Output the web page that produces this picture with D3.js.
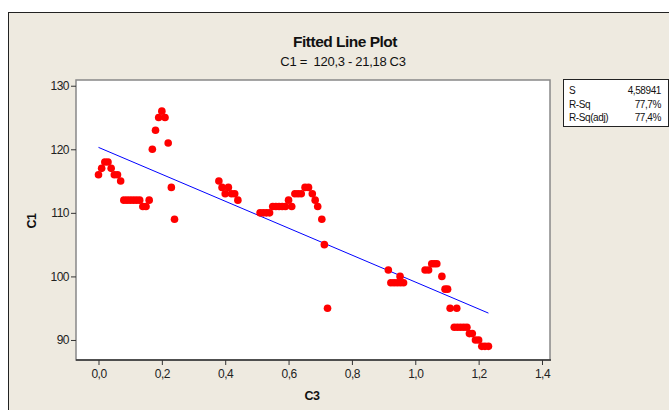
<!DOCTYPE html>
<html><head><meta charset="utf-8">
<script src="https://cdn.jsdelivr.net/npm/d3@7"></script>
<style>
html,body{margin:0;padding:0;background:#fff;}
svg{display:block;font-family:"Liberation Sans",Arial,sans-serif;}
</style></head>
<body><svg id="c" width="669" height="410"></svg>
<script>
// ---- data ----
const xValues = [0.00,0.01,0.02,0.03,0.04,0.05,0.06,0.07,
  0.08,0.09,0.10,0.11,0.12,0.13,0.14,0.15,0.16,0.17,0.18,0.19,0.20,0.21,0.22,0.23,0.24,
  0.38,0.39,0.40,0.41,0.42,0.43,0.44,
  0.51,0.52,0.53,0.54,0.55,0.56,0.57,0.58,0.59,0.60,0.61,0.62,0.63,0.64,
  0.652,0.663,0.675,0.684,0.692,0.705,0.713,0.723,
  0.915,0.923,0.933,0.943,0.953,0.963,0.952,
  1.031,1.042,1.052,1.060,1.068,1.084,1.094,1.102,1.110,1.131,
  1.123,1.133,1.143,1.153,1.163,1.171,1.180,1.190,1.200,1.210,1.220,1.231];
const yValues = [116,117,118,118,117,116,116,115,
  112,112,112,112,112,112,111,111,112,120,123,125,126,125,121,114,109,
  115,114,113,114,113,113,112,
  110,110,110,110,111,111,111,111,111,112,111,113,113,113,
  114,114,113,112,111,109,105,95,
  101,99,99,99,99,99,100,
  101,101,102,102,102,100,98,98,95,95,
  92,92,92,92,92,91,91,90,90,89,89,89];
const fitIntercept = 120.3, fitSlope = -21.18;
const xTicks = [0,0.2,0.4,0.6,0.8,1.0,1.2,1.4];
const yTicks = [90,100,110,120,130];
const titleText = "Fitted Line Plot";
const subtitleText = "C1 =  120,3 - 21,18 C3";
const statLabels = ["S","R-Sq","R-Sq(adj)"];
const statValues = ["4,58941","77,7%","77,4%"];

// ---- layout ----
const svg = d3.select("#c");
const L=76, R=550, T=80, B=360;
const x = d3.scaleLinear().domain([-0.071,1.4253]).range([L,R]);
const y = d3.scaleLinear().domain([86.85,130.9]).range([B,T]);
const fmt = d => d3.format(".1f")(d).replace(".",",");

svg.append("rect").attr("x",8.5).attr("y",12.5).attr("width",700).attr("height",450)
  .attr("fill","#EEEAE0").attr("stroke","#222").attr("stroke-width",1);

// titles
svg.append("text").attr("x",345).attr("y",47).attr("text-anchor","middle")
  .attr("font-size",15.5).attr("font-weight","bold").attr("letter-spacing",-0.5).attr("fill","#111").text(titleText);
svg.append("text").attr("x",343).attr("y",66).attr("text-anchor","middle")
  .attr("font-size",13).attr("letter-spacing",-0.3).attr("fill","#111").style("white-space","pre").text(subtitleText);

// plot area
svg.append("rect").attr("x",L).attr("y",T).attr("width",R-L).attr("height",B-T)
  .attr("fill","#fff").attr("stroke","#888").attr("stroke-width",1.5);
svg.append("line").attr("x1",L).attr("x2",R+1).attr("y1",B).attr("y2",B).attr("stroke","#333").attr("stroke-width",1.5);

// axes
const xa = svg.append("g").attr("transform",`translate(0,${B})`)
  .call(d3.axisBottom(x).tickValues(xTicks).tickFormat(fmt).tickSize(5).tickPadding(4));
const ya = svg.append("g").attr("transform",`translate(${L},0)`)
  .call(d3.axisLeft(y).tickValues(yTicks).tickSize(5).tickPadding(2));
[xa,ya].forEach(g=>{
  g.select(".domain").remove();
  g.selectAll("line").attr("stroke","#333");
  g.selectAll("text").attr("font-size",12).attr("letter-spacing",-0.5).attr("fill","#222")
   .attr("font-family","'Liberation Sans',Arial,sans-serif");
});

svg.append("text").attr("x",312).attr("y",400).attr("text-anchor","middle")
  .attr("font-size",12.5).attr("font-weight","bold").attr("letter-spacing",-0.6).attr("fill","#111").text("C3");
svg.append("text").attr("transform","translate(36,221) rotate(-90)").attr("text-anchor","middle")
  .attr("font-size",12.5).attr("font-weight","bold").attr("letter-spacing",-0.6).attr("fill","#111").text("C1");

// fitted line
const xmin = d3.min(xValues), xmax = d3.max(xValues);
svg.append("line")
  .attr("x1",x(xmin)).attr("y1",y(fitIntercept+fitSlope*xmin))
  .attr("x2",x(xmax)).attr("y2",y(fitIntercept+fitSlope*xmax))
  .attr("stroke","#0000FF").attr("stroke-width",1);

// points
svg.append("g").selectAll("circle").data(xValues.map((v,i)=>[v,yValues[i]])).join("circle")
  .attr("cx",d=>x(d[0])).attr("cy",d=>y(d[1])).attr("r",3.8).attr("fill","#FF0000");

// stats box
svg.append("rect").attr("x",563.5).attr("y",79.5).attr("width",105).attr("height",47)
  .attr("fill","#fff").attr("stroke","#222").attr("stroke-width",1);
statLabels.forEach((s,i)=>{
  svg.append("text").attr("x",569).attr("y",94+i*13.5).attr("font-size",10).attr("letter-spacing",-0.4).attr("fill","#111").text(s);
  svg.append("text").attr("x",661).attr("y",94+i*13.5).attr("text-anchor","end").attr("font-size",10).attr("letter-spacing",-0.4).attr("fill","#111").text(statValues[i]);
});
</script></body></html>
